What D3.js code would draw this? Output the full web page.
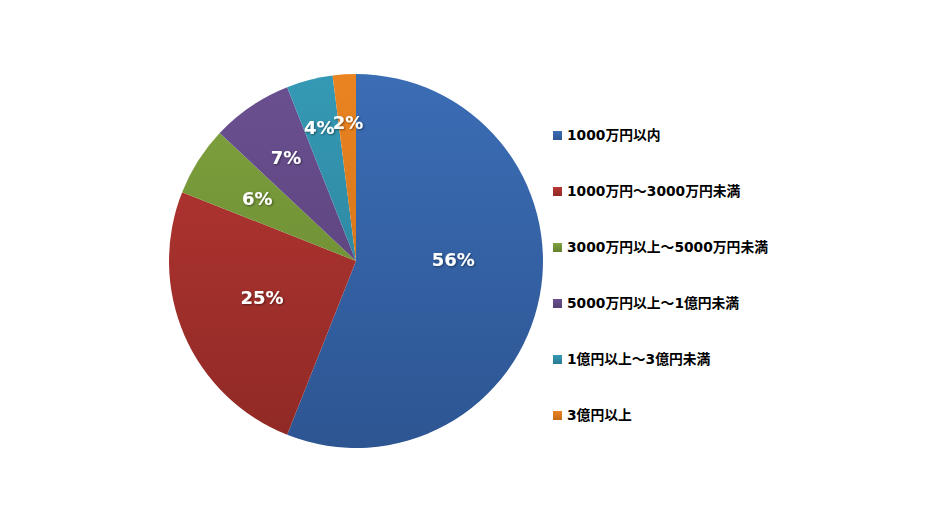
<!DOCTYPE html>
<html><head><meta charset="utf-8">
<script src="https://cdn.jsdelivr.net/npm/d3@7"></script>
<style>
html,body{margin:0;padding:0;background:#fff;}
</style></head>
<body>
<svg id="chart" width="950" height="527"></svg>
<script>
const categories = ["1000万円以内","1000万円～3000万円未満","3000万円以上～5000万円未満","5000万円以上～1億円未満","1億円以上～3億円未満","3億円以上"];
const values = [56, 25, 6, 7, 4, 2];
const labels = ["56%","25%","6%","7%","4%","2%"];
const topColors = ["#3b6db5","#b83733","#80a33e","#6b5091","#3599b5","#ea8421"];
const bottomColors = ["#2d5592","#8f2925","#63812e","#533e72","#2a7a92","#c66a15"];

const svg = d3.select("#chart");
const cx = 356, cy = 261, r = 187;

const defs = svg.append("defs");
topColors.forEach((c,i)=>{
  const g = defs.append("linearGradient").attr("id","g"+i)
    .attr("gradientUnits","userSpaceOnUse")
    .attr("x1",0).attr("y1",-r).attr("x2",0).attr("y2",r);
  g.append("stop").attr("offset","0%").attr("stop-color",c);
  g.append("stop").attr("offset","100%").attr("stop-color",bottomColors[i]);
});
const f = defs.append("filter").attr("id","ts").attr("x","-20%").attr("y","-20%").attr("width","140%").attr("height","140%");
f.append("feDropShadow").attr("dx",1).attr("dy",1).attr("stdDeviation",0.8).attr("flood-color","#000").attr("flood-opacity",0.45);

const pie = d3.pie().sort(null).value(d=>d);
const arcs = pie(values);
const arc = d3.arc().innerRadius(0).outerRadius(r);

const g = svg.append("g").attr("transform",`translate(${cx},${cy})`);
g.selectAll("path").data(arcs).enter().append("path")
  .attr("d",arc)
  .attr("fill",(d,i)=>`url(#g${i})`)
  .attr("stroke","none");

// label placement: radial fraction and angular shift (deg) per slice
const labelR = [0.52,0.54,0.626,0.666,0.74,0.74];
const labelShift = [-11.4,1.9,0,0,-1,0.3];
g.selectAll("text.lbl").data(arcs).enter().append("text")
  .attr("class","lbl")
  .attr("transform",(d,i)=>{
    const a = (d.startAngle+d.endAngle)/2 + labelShift[i]*Math.PI/180;
    const rr = r*labelR[i];
    return `translate(${rr*Math.sin(a)},${-rr*Math.cos(a)})`;
  })
  .attr("text-anchor","middle")
  .attr("dy","0.36em")
  .attr("fill","#fff")
  .attr("filter","url(#ts)")
  .style("font-family","'DejaVu Sans', Verdana, sans-serif")
  .style("font-weight","bold")
  .style("font-size","18px")
  .text((d,i)=>labels[i]);

// legend
const ly = d3.scalePoint().domain(categories).range([135,415]);
const leg = svg.append("g");
categories.forEach((c,i)=>{
  const lg = defs.append("linearGradient").attr("id","lg"+i).attr("x1",0).attr("y1",0).attr("x2",0).attr("y2",1);
  lg.append("stop").attr("offset","0%").attr("stop-color",topColors[i]);
  lg.append("stop").attr("offset","100%").attr("stop-color",bottomColors[i]);
  leg.append("rect").attr("x",553).attr("y",ly(c)-4).attr("width",9).attr("height",9)
    .attr("fill",`url(#lg${i})`);
  leg.append("text").attr("x",567).attr("y",ly(c)).attr("dy","0.38em")
    .attr("fill","#000")
    .style("font-family","'DejaVu Sans','Noto Sans CJK JP',sans-serif")
    .style("font-weight","bold")
    .style("font-size","13.8px")
    .text(c);
});
</script>
</body></html>
